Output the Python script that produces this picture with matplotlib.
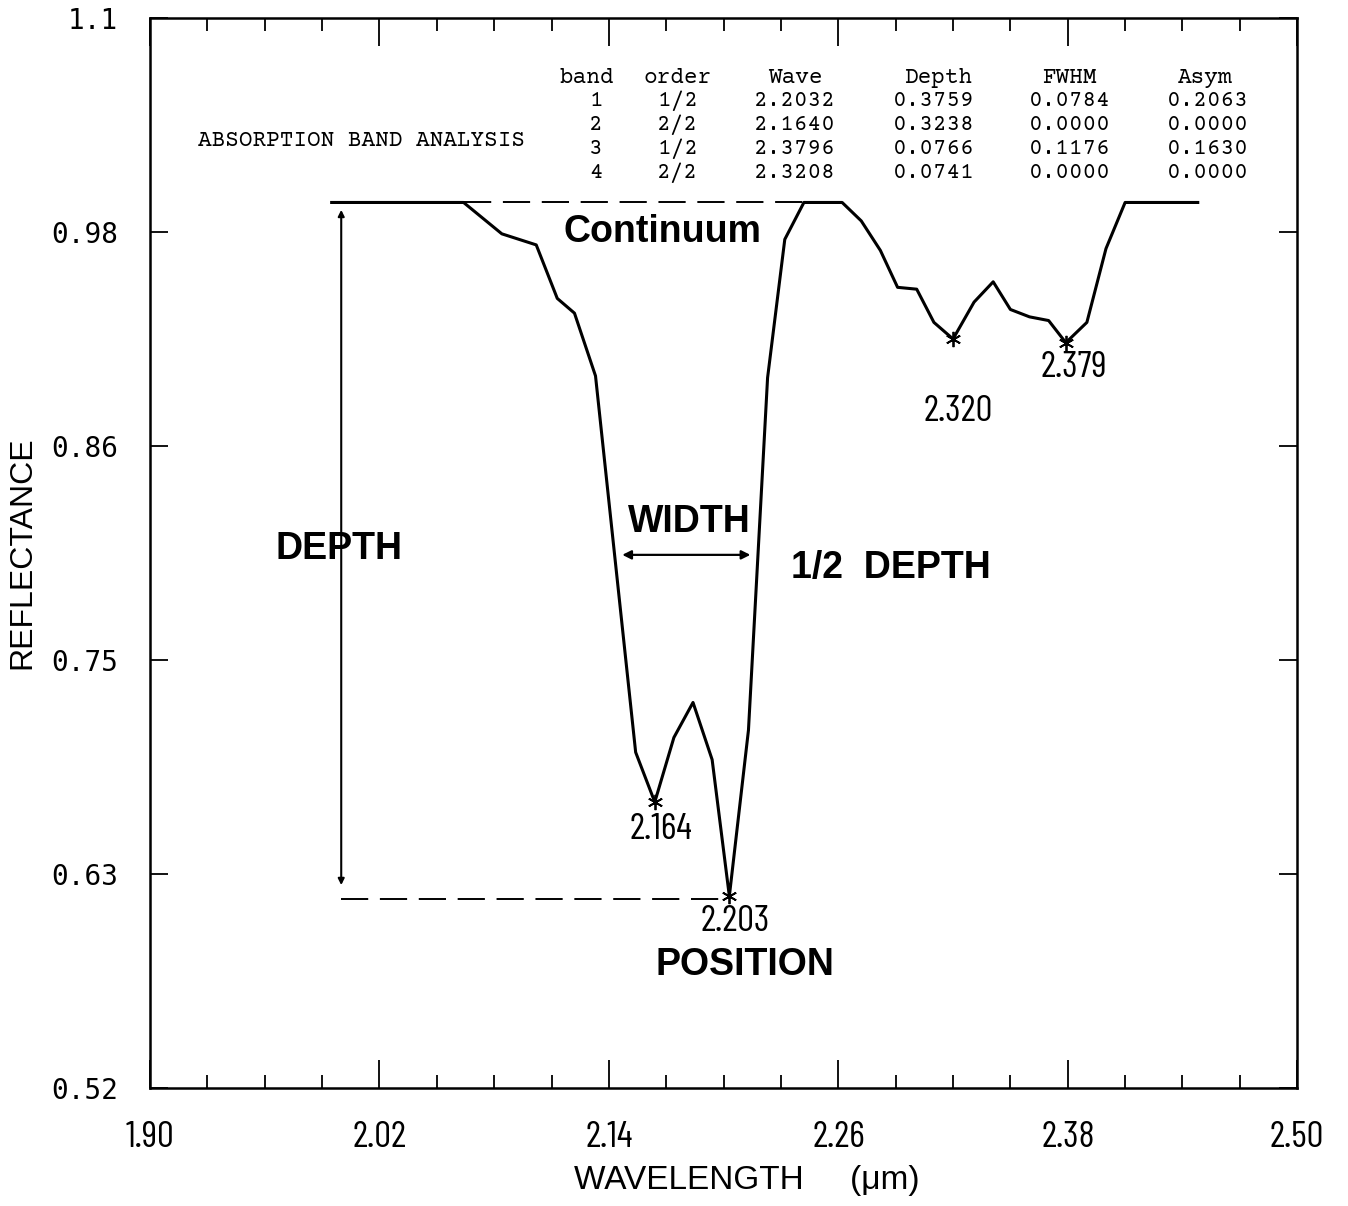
import numpy as np
import matplotlib
matplotlib.use("Agg")
import matplotlib.pyplot as plt

# spectrum (wavelength in um, reflectance)
wavelength = [1.995, 2.064, 2.084, 2.102, 2.113, 2.122, 2.133, 2.154, 2.164, 2.174,
              2.184, 2.194, 2.203, 2.213, 2.223, 2.232, 2.242, 2.262, 2.272, 2.282,
              2.291, 2.301, 2.310, 2.320, 2.331, 2.341, 2.350, 2.360, 2.370, 2.379,
              2.390, 2.400, 2.410, 2.448]
reflectance = [1.000, 1.000, 0.983, 0.977, 0.948, 0.940, 0.906, 0.702, 0.675, 0.710,
               0.729, 0.698, 0.624, 0.714, 0.905, 0.980, 1.000, 1.000, 0.990, 0.974,
               0.954, 0.953, 0.935, 0.926, 0.946, 0.957, 0.942, 0.938, 0.936, 0.924,
               0.935, 0.975, 1.000, 1.000]

# band minima marked with asterisks
band_pos = [2.164, 2.203, 2.320, 2.379]
band_labels = ["2.164", "2.203", "2.320", "2.379"]
label_offsets = [(6, -27), (6, -25), (5, -73), (8, -25)]

# continuum and band-1 measurements
continuum = 1.0
band1_min = 0.624
band1_halfdepth = 0.809
band1_left, band1_right = 2.064, 2.242
width_left, width_right = 2.147, 2.214
depth_x = 2.0

# table of results
tbl_band = ["1", "2", "3", "4"]
tbl_order = ["1/2", "2/2", "1/2", "2/2"]
tbl_wave = [2.2032, 2.1640, 2.3796, 2.3208]
tbl_depth = [0.3759, 0.3238, 0.0766, 0.0741]
tbl_fwhm = [0.0784, 0.0000, 0.1176, 0.0000]
tbl_asym = [0.2063, 0.0000, 0.1630, 0.0000]

xticks_major = [1.90, 2.02, 2.14, 2.26, 2.38, 2.50]
yticks = np.linspace(0.52, 1.1, 6)
ytick_labels = ["0.52", "0.63", "0.75", "0.86", "0.98", "1.1"]

narrow = ["Barlow Condensed", "DejaVu Sans"]
courier = ["Courier Prime", "Liberation Mono", "DejaVu Sans Mono"]
helv = ["Liberation Sans", "DejaVu Sans"]

fig = plt.figure(figsize=(13.48, 12.06), dpi=100)
ax = fig.add_axes([0.1113, 0.0978, 0.851, 0.8873])

ax.plot(wavelength, reflectance, color="black", lw=2.2, zorder=3)

# asterisks at band minima
band_vals = [reflectance[wavelength.index(p)] for p in band_pos]
ax.plot(band_pos, band_vals, linestyle="none", marker=(6, 2, 0), ms=11, mew=1.3,
        color="black", zorder=4)
for p, v, lab, off in zip(band_pos, band_vals, band_labels, label_offsets):
    ax.annotate(lab, xy=(p, v), xytext=off, textcoords="offset pixels",
                ha="center", va="center", fontsize=27, family=narrow)

# continuum and depth guides
ax.plot([band1_left, band1_right], [continuum, continuum], color="black", lw=1.4,
        dashes=(14, 6), zorder=2)
ax.plot([depth_x, 2.203], [band1_min - 0.0015, band1_min - 0.0015], color="black", lw=1.4,
        dashes=(14, 6), zorder=2)
ax.annotate("", xy=(depth_x, 0.996), xytext=(depth_x, 0.630),
            arrowprops=dict(arrowstyle="<|-|>", color="black", lw=1.5,
                            mutation_scale=9, shrinkA=0, shrinkB=0))
ax.annotate("", xy=(width_left, band1_halfdepth), xytext=(width_right, band1_halfdepth),
            arrowprops=dict(arrowstyle="<|-|>", color="black", lw=1.6,
                            mutation_scale=13, shrinkA=0, shrinkB=0))

bold = dict(fontsize=27, fontweight="bold", family=helv, ha="center", va="center")
ax.text(2.168, 0.984, "Continuum", **bold)
ax.text(2.182, 0.827, "WIDTH", **bold)
ax.text(1.999, 0.812, "DEPTH", **bold)
ax.text(2.2877, 0.802, "1/2  DEPTH", **bold)
ax.text(2.211, 0.5867, "POSITION", **bold)

# analysis table
mono = dict(fontsize=16.4, family=courier, va="center", ha="center")
ax.text(1.925, 1.0333, "ABSORPTION BAND ANALYSIS", fontsize=16.4, family=courier,
        va="center", ha="left")
row_y = [1.055, 1.042, 1.029, 1.016]
headers = [("band", 2.1286), ("order", 2.176), ("Wave", 2.2374),
           ("Depth", 2.312), ("FWHM", 2.381), ("Asym", 2.452)]
for name, x in headers:
    ax.text(x, 1.0675, name, **mono)
for i, y in enumerate(row_y):
    ax.text(2.1333, y, tbl_band[i], **mono)
    ax.text(2.176, y, tbl_order[i], **mono)
    ax.text(2.2374, y, f"{tbl_wave[i]:.4f}", **mono)
    ax.text(2.310, y, f"{tbl_depth[i]:.4f}", **mono)
    ax.text(2.381, y, f"{tbl_fwhm[i]:.4f}", **mono)
    ax.text(2.453, y, f"{tbl_asym[i]:.4f}", **mono)

# axes
ax.set_xlim(1.90, 2.50)
ax.set_ylim(0.52, 1.1)
ax.set_xticks(xticks_major)
ax.set_xticklabels([f"{v:.2f}" for v in xticks_major], family=narrow, fontsize=27)
ax.set_xticks(np.arange(1.93, 2.50, 0.03), minor=True)
ax.set_yticks(yticks)
ax.set_yticklabels(ytick_labels, family="DejaVu Sans Mono", fontsize=20)
ax.tick_params(axis="x", which="major", direction="in", length=20, width=1.3,
               top=True, pad=24)
ax.tick_params(axis="x", which="minor", direction="in", length=9.5, width=1.3, top=True)
ax.tick_params(axis="y", which="major", direction="in", length=13, width=1.3,
               right=True, pad=23)
for s in ax.spines.values():
    s.set_linewidth(1.8)

ax.set_ylabel("REFLECTANCE", family=helv, fontsize=23)
ax.yaxis.set_label_coords(-0.098, 0.5)
ax.set_xlabel("WAVELENGTH     (\u03bcm)", family=helv, fontsize=24)
ax.xaxis.set_label_coords(0.52, -0.072)

fig.savefig("out.png", dpi=100)
